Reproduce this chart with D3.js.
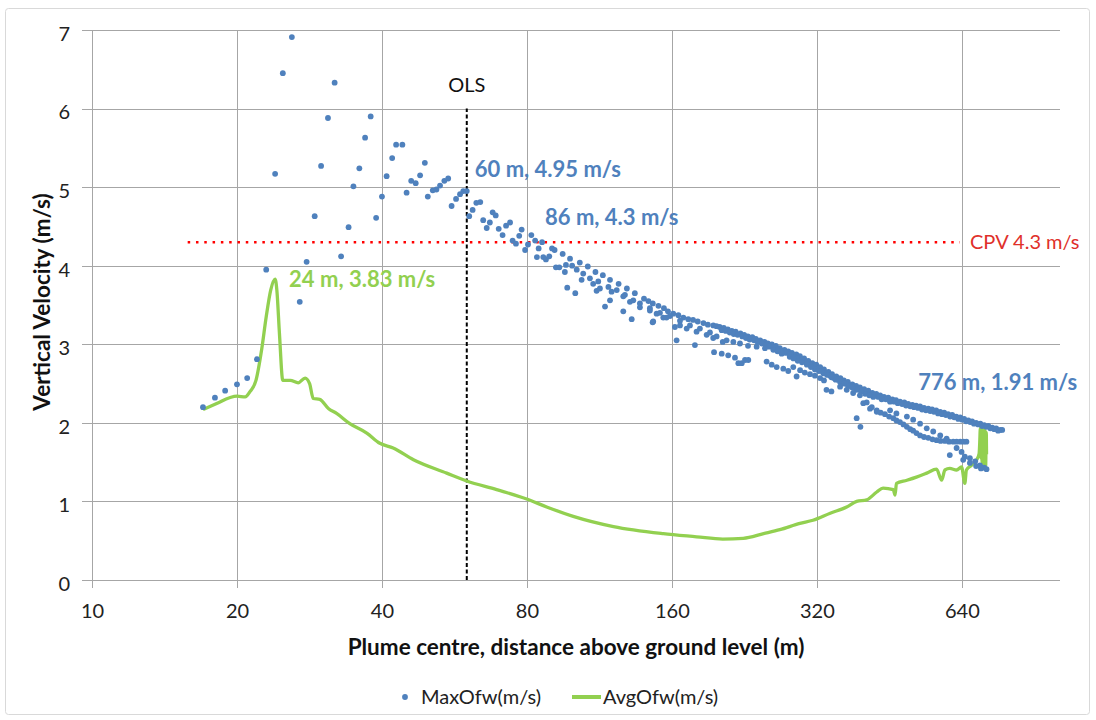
<!DOCTYPE html>
<html>
<head>
<meta charset="utf-8">
<title>Vertical Velocity</title>
<style>
body { margin: 0; background: #fff; font-family: Lato, "Open Sans", sans-serif; }
</style>
</head>
<body>
<script src="https://cdn.jsdelivr.net/npm/d3@7/dist/d3.min.js"></script>
<script>
// DATA  [height above ground (m), velocity (m/s)]
var xTicks = [10, 20, 40, 80, 160, 320, 640];
var yTicks = [0, 1, 2, 3, 4, 5, 6, 7];

// MaxOfw: scattered points below the OLS
var maxEarly = [[17.0,2.20],[18.0,2.32],[18.9,2.41],[20.0,2.49],[21.0,2.57],[22.0,2.81],[23.0,3.95],[24.0,5.17],
  [24.9,6.45],[26.0,6.91],[27.0,3.54],[27.9,4.05],[29.0,4.63],[29.9,5.27],[30.9,5.88],[31.9,6.33],[32.9,4.12],
  [34.1,4.49],[34.9,5.01],[35.9,5.24],[36.9,5.63],[37.9,5.90],[38.9,4.61],[40.0,4.88],[40.9,5.14],[42.0,5.37],
  [42.8,5.54],[44.1,5.54],[45.0,4.93],[46.0,5.08],[47.0,5.05],[48.0,5.15],[49.1,5.31],[49.8,4.88],[51.0,4.96],
  [51.9,4.97],[52.8,5.02],[53.9,5.08],[54.9,5.11],[55.8,4.76],[57.0,4.85],[58.1,4.91],[59.0,4.95],[60.0,4.95]];

// MaxOfw: 60 - 100 m
var maxMid = [[60.7,4.63],[61.7,4.71],[62.8,4.80],[64.0,4.81],[64.9,4.58],[66.0,4.48],[67.0,4.55],[67.9,4.68],
  [68.9,4.64],[69.9,4.47],[71.2,4.39],[72.4,4.51],[73.8,4.55],[74.7,4.32],[75.9,4.28],[77.1,4.38],[78.0,4.46],
  [79.3,4.20],[80.4,4.27],[81.7,4.39],[83.2,4.32],[84.6,4.22],[86.0,4.30],[83.9,4.11],[86.5,4.11],[87.6,4.08],
  [89.0,4.12],[90.2,4.22],[91.3,4.20],[91.9,3.98],[93.4,3.98],[94.9,4.15],[95.9,3.92],[96.4,4.01],[98.3,4.09],
  [99.3,4.00],[97.0,3.72],[100.8,3.65]];

// MaxOfw: rows between 100 and 200 m
var maxRowA = [[103,4.04],[107,3.99],[111,3.92],[115,3.88],[119,3.82],[124,3.77],[129,3.71],[134,3.65],
  [140,3.58],[143,3.55],[146,3.52],[150,3.49],[154,3.46],[157,3.42],[161,3.39],[165,3.37],[169,3.34],[173,3.32],
  [177,3.31],[181,3.29],[186,3.27],[190,3.25],[195,3.24],[198,3.23]];
var maxRowB = [[101.5,3.95],[104.7,3.90],[108.1,3.84],[112.5,3.80],[118.1,3.73],[122.9,3.69],[127.8,3.63],
  [133.0,3.56],[137.3,3.52],[144.0,3.46],[151.1,3.40],[158.5,3.36],[166.3,3.30],[174.4,3.24],[182.9,3.20],
  [191.9,3.15],[198.1,3.10]];
var maxRowC = [[103.9,3.82],[109.8,3.77],[113.4,3.71],[119.9,3.67],[126.8,3.61],[130.9,3.54],[137.3,3.47],
  [144.0,3.43],[148.7,3.39],[155.9,3.34],[166.3,3.24],[171.7,3.20],[180.0,3.16],[188.9,3.12],[194.9,3.08],[204,3.03]];
var maxRowD = [[111.6,3.68],[119.0,3.56],[116.2,3.48],[126.8,3.42],[132.0,3.32],[145.9,3.28],[146.3,3.29],
  [153.5,3.34],[162.3,3.22],[163.6,3.05],[178.6,2.99]];

// MaxOfw: upper band 200 - 776 m (two close rows)
var maxTop = [[201,3.22],[205,3.21],[209,3.19],[213,3.17],[217,3.16],[222,3.14],[226,3.12],[230,3.10],[235,3.09],
  [239,3.07],[244,3.05],[249,3.03],[253,3.01],[258,3.00],[263,2.98],[268,2.95],[274,2.93],[279,2.91],[284,2.89],
  [290,2.87],[295,2.85],[301,2.82],[307,2.79],[313,2.76],[319,2.74],[325,2.71],[331,2.68],[338,2.65],[344,2.62],
  [351,2.59],[358,2.57],[364,2.54],[371,2.52],[379,2.49],[386,2.47],[393,2.45],[401,2.43],[409,2.41],[417,2.38],
  [425,2.37],[433,2.35],[441,2.33],[450,2.32],[459,2.30],[467,2.29],[476,2.27],[486,2.26],[495,2.24],[505,2.23],
  [514,2.22],[524,2.21],[534,2.19],[545,2.18],[555,2.17],[566,2.16],[577,2.14],[588,2.13],[599,2.11],[611,2.10],
  [623,2.08],[635,2.07],[647,2.05],[660,2.03],[672,2.02],[685,2.00],[699,1.99],[712,1.97],[726,1.96],[740,1.94],
  [754,1.93],[769,1.91],[776,1.91]];
var maxTopLow = [[203,3.18],[207,3.17],[211,3.15],[215,3.13],[219,3.12],[224,3.10],[228,3.08],[232,3.06],[237,3.05],
  [241,3.03],[246,3.01],[251,2.99],[255,2.97],[260,2.96],[265,2.93],[271,2.91],[276,2.89],[281,2.87],[287,2.84],
  [292,2.82],[298,2.80],[304,2.77],[310,2.74],[316,2.72],[322,2.69],[328,2.66],[334,2.63],[341,2.60],[347,2.57],
  [354,2.55],[361,2.52],[367,2.50],[375,2.47],[382,2.45],[389,2.43],[397,2.41],[405,2.39],[413,2.37],[421,2.35],
  [429,2.33],[437,2.31],[445,2.30],[454,2.28],[463,2.27],[471,2.25],[481,2.24],[490,2.22],[500,2.21],[509,2.20],
  [519,2.19],[529,2.17],[539,2.16],[550,2.15],[560,2.14],[571,2.12],[582,2.11],[593,2.10],[605,2.08],[617,2.07],
  [629,2.05],[641,2.04],[653,2.02],[666,2.01],[678,1.99],[692,1.98],[705,1.96],[719,1.95],[733,1.93],[747,1.92],
  [761,1.90]];
var maxBandS = [[207.8,3.05],[214.6,3.03],[221.5,3.01],[230.2,2.98],[239.9,2.97],[249.6,2.95],[259.8,2.93],
  [270.4,2.88],[281,2.84],[292,2.79],[305,2.74],[317,2.68],[330,2.63],[343,2.58],[357.5,2.52],[371.4,2.47],
  [387,2.42],[403,2.37],[419,2.33],[436,2.30],[454,2.27],[265,2.91],[286,2.82],[298,2.77],[311,2.71],[323,2.66],
  [336,2.61],[350,2.55],[364,2.50],[379,2.45],[395,2.40],[411,2.35]];
var maxBandL = [[195.7,2.90],[203,2.88],[209.4,2.86],[216.3,2.83],[219.8,2.76],[223.4,2.76],[226.9,2.80],
  [230.5,2.80],[251.6,2.78],[257.8,2.74],[264,2.71],[272.5,2.69],[279,2.66],[285.8,2.71],[290.4,2.59],[295.3,2.67],
  [302,2.64],[309.6,2.62],[317,2.60],[324.9,2.57],[331,2.54],[335,2.42],[343,2.40],[357.5,2.46],[369,2.42],
  [380.5,2.38],[399.4,2.25],[412.5,2.18],[426,2.14],[387,2.06],[394,1.95]];
var maxBand2 = [[393,2.35],[406,2.26],[426,2.16],[443,2.11],[461,2.06],[476,2.01],[492,1.95],[507,1.90],
  [524,1.84],[545,1.81],[567,1.78],[590,1.77],[614,1.76],[635,1.76],[654,1.76],[416,2.20],[434,2.13],[452,2.08],
  [468,2.03],[484,1.98],[500,1.92],[515,1.87],[534,1.82],[556,1.79],[578,1.77],[602,1.76],[624,1.76],[645,1.76]];
var maxBand3 = [[454,2.16],[468,2.12],[492,2.08],[507,2.04],[524,1.99],[541,1.93],[558,1.89],[577,1.84],[595,1.80]];
var maxTail = [[604,1.59],[624,1.68],[639,1.63],[649,1.57],[665,1.55],[682,1.51],[698,1.46],[712,1.43],[720,1.41],
  [644,1.53],[665,1.49],[685,1.45],[701,1.42]];

// AvgOfw line
var avgLine = [[17.0,2.17],[18.2,2.25],[19.3,2.32],[20.0,2.34],[20.8,2.33],[21.3,2.40],[21.9,2.54],[22.5,2.93],
  [23.0,3.35],[23.5,3.69],[24.0,3.83],[24.2,3.69],[24.5,3.14],[24.9,2.54],[25.8,2.54],[26.8,2.51],[27.7,2.57],
  [28.3,2.50],[28.8,2.31],[29.7,2.30],[31.0,2.18],[32.2,2.12],[34.3,1.99],[37.2,1.87],[39.6,1.74],[42.2,1.68],
  [46.5,1.53],[54.5,1.36],[60.0,1.26],[69.2,1.15],[79.9,1.03],[87.9,0.93],[99.8,0.81],[121,0.68],[153.5,0.59],
  [180,0.55],[204,0.52],[225,0.53],[248,0.59],[268,0.64],[295,0.72],[314,0.76],[341,0.85],[369,0.93],[387,1.00],
  [406,1.02],[426,1.12],[439,1.17],[461,1.15],[465,1.08],[468,1.23],[492,1.27],[515,1.31],[541,1.36],[567,1.41],
  [581,1.27],[590,1.40],[604,1.42],[624,1.40],[639,1.44],[649,1.23],[654,1.40],[670,1.46],[687,1.53],[695,1.61],
  [697,1.75],[699,1.93],[701,1.55],[703,1.92],[705,1.50],[707,1.93],[709,1.48],[711,1.92],[713,1.52],[715,1.90],
  [717,1.45],[719,1.88],[720,1.60]];

var olsHeight = 60;
var cpv = 4.3;
var cpvRange = [15.8, 634];
var labels = [
  {h: 60, v: 4.95, text: "60 m, 4.95 m/s", dx: 8, dy: -14, color: "#4f81bd"},
  {h: 86, v: 4.3, text: "86 m, 4.3 m/s", dx: 3, dy: -17, color: "#4f81bd"},
  {h: 776, v: 1.91, text: "776 m, 1.91 m/s", dx: -84, dy: -40, color: "#4f81bd"},
  {h: 24, v: 3.83, text: "24 m, 3.83 m/s", dx: 14, dy: 8, color: "#92d050"}
];

var maxAll = [].concat(maxEarly, maxMid, maxRowA, maxRowB, maxRowC, maxRowD,
  maxTop, maxTopLow, maxBandS, maxBandL, maxBand2, maxBand3, maxTail);

// SCALES
var x = d3.scaleLog().base(2).domain([10, 1023]).range([92, 1060]);
var y = d3.scaleLinear().domain([0, 7]).range([580, 30]);

var svg = d3.select("body").append("svg")
  .attr("width", 1096)
  .attr("height", 720);

svg.append("rect")
  .attr("x", 5.5).attr("y", 8.5)
  .attr("width", 1084).attr("height", 706)
  .attr("rx", 3)
  .attr("fill", "#fff")
  .attr("stroke", "#d9d9d9");

// grid
svg.append("g")
  .attr("transform", "translate(0,588)")
  .call(d3.axisBottom(x).tickValues(xTicks).tickSize(-558).tickFormat(""));
svg.append("g")
  .attr("transform", "translate(82,0)")
  .call(d3.axisLeft(y).tickValues(yTicks).tickSize(-978).tickFormat(""));
svg.selectAll(".domain").remove();
svg.selectAll(".tick line").attr("stroke", "#a6a6a6").attr("shape-rendering", "crispEdges");

// tick labels
svg.append("g")
  .attr("transform", "translate(0,580)")
  .call(d3.axisBottom(x).tickValues(xTicks).tickSize(0).tickPadding(24).tickFormat(d3.format("d")))
  .call(function(g) { g.select(".domain").remove(); })
  .selectAll("text")
  .attr("font-family", "Lato").attr("font-size", 20).attr("fill", "#222");

svg.append("g")
  .attr("transform", "translate(70,4)")
  .call(d3.axisLeft(y).tickValues(yTicks).tickSize(0).tickPadding(0).tickFormat(d3.format("d")))
  .call(function(g) { g.select(".domain").remove(); })
  .selectAll("text")
  .attr("font-family", "Lato").attr("font-size", 20).attr("fill", "#222");

// axis titles
svg.append("text")
  .attr("x", 576).attr("y", 655)
  .attr("text-anchor", "middle")
  .attr("font-size", 22.5).attr("font-weight", "bold").attr("fill", "#111")
  .text("Plume centre, distance above ground level (m)");

svg.append("text")
  .attr("transform", "translate(50,302) rotate(-90)")
  .attr("text-anchor", "middle")
  .attr("font-size", 22.5).attr("font-weight", "bold").attr("fill", "#111")
  .text("Vertical Velocity (m/s)");

// CPV line
svg.append("line")
  .attr("x1", x(cpvRange[0])).attr("x2", x(cpvRange[1]))
  .attr("y1", y(cpv)).attr("y2", y(cpv))
  .attr("stroke", "#ff0000").attr("stroke-width", 2.5)
  .attr("stroke-dasharray", "2.5,5.8");
svg.append("text")
  .attr("x", x(cpvRange[1]) + 10).attr("y", y(cpv) + 7)
  .attr("font-size", 20).attr("fill", "#e0302a")
  .text("CPV 4.3 m/s");

// OLS line
svg.append("line")
  .attr("x1", x(olsHeight)).attr("x2", x(olsHeight))
  .attr("y1", y(0)).attr("y2", y(6))
  .attr("stroke", "#000").attr("stroke-width", 2)
  .attr("stroke-dasharray", "4,2.5");
svg.append("text")
  .attr("x", x(olsHeight)).attr("y", 92)
  .attr("text-anchor", "middle")
  .attr("font-size", 20).attr("fill", "#111")
  .text("OLS");

// AvgOfw
var line = d3.line()
  .curve(d3.curveMonotoneX)
  .x(function(d) { return x(d[0]); })
  .y(function(d) { return y(d[1]); });
svg.append("path")
  .datum(avgLine)
  .attr("d", line)
  .attr("fill", "none")
  .attr("stroke", "#92d050")
  .attr("stroke-width", 3.3)
  .attr("stroke-linejoin", "round");

// MaxOfw
svg.append("g").selectAll("circle")
  .data(maxAll)
  .enter().append("circle")
  .attr("cx", function(d) { return x(d[0]); })
  .attr("cy", function(d) { return y(d[1]); })
  .attr("r", 2.9)
  .attr("fill", "#4f81bd");

// annotations
svg.append("g").selectAll("text")
  .data(labels)
  .enter().append("text")
  .attr("x", function(d) { return x(d.h) + d.dx; })
  .attr("y", function(d) { return y(d.v) + d.dy; })
  .attr("font-size", 22).attr("font-weight", "bold")
  .attr("fill", function(d) { return d.color; })
  .text(function(d) { return d.text; });

// legend
var legend = svg.append("g").attr("font-size", 20).attr("fill", "#222");
legend.append("circle").attr("cx", 405).attr("cy", 697).attr("r", 2.9).attr("fill", "#4f81bd");
legend.append("text").attr("x", 421).attr("y", 704).text("MaxOfw(m/s)");
legend.append("line").attr("x1", 572).attr("x2", 601).attr("y1", 697).attr("y2", 697)
  .attr("stroke", "#92d050").attr("stroke-width", 4);
legend.append("text").attr("x", 603).attr("y", 704).text("AvgOfw(m/s)");
</script>
</body>
</html>
